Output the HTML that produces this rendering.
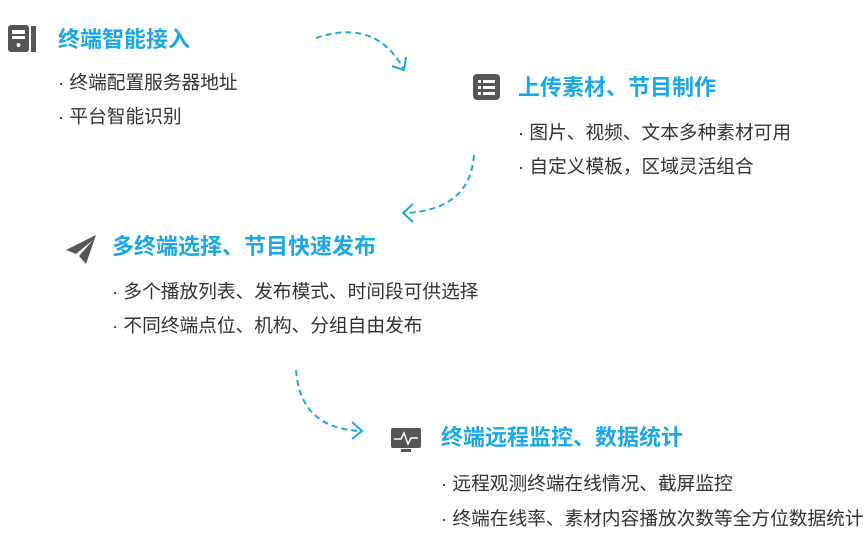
<!DOCTYPE html>
<html><head><meta charset="utf-8"><style>
body{margin:0;width:866px;height:542px;background:#fff;position:relative;overflow:hidden;font-family:"Liberation Sans","Noto Sans CJK SC",sans-serif}
.t{position:absolute;color:#1ba8e6;font-weight:bold;font-size:22px;white-space:nowrap;line-height:1}
.b{position:absolute;color:#333;font-size:18.7px;white-space:nowrap;line-height:1}
svg{position:absolute;left:0;top:0}
</style></head><body>
<svg width="866" height="542">
<g fill="#555">
<rect x="8" y="25" width="21" height="27" rx="3"/><rect x="31" y="26" width="5" height="26"/>
<rect x="12" y="30" width="13" height="4" fill="#fff"/><rect x="12" y="36" width="13" height="3" fill="#fff"/><circle cx="18.5" cy="45" r="2" fill="#fff"/>
<rect x="473" y="74" width="27" height="26" rx="4"/>
<g fill="#fff"><rect x="478" y="80" width="3" height="3"/><rect x="483" y="80" width="12" height="3"/><rect x="478" y="86" width="3" height="3"/><rect x="483" y="86" width="12" height="3"/><rect x="478" y="92" width="3" height="3"/><rect x="483" y="92" width="12" height="3"/></g>
<path d="M96 235 L66 250 L76 254 L93 240 L79 256 L86 264 Z"/>
<rect x="391" y="428" width="30" height="20" rx="2"/><rect x="401" y="449" width="10" height="3"/>
</g>
<polyline points="394,439 401,439 404,433 408,444 411,438 418,438" fill="none" stroke="#fff" stroke-width="1.5"/>
<g fill="none" stroke="#1ba8e6" stroke-width="2" stroke-dasharray="6,4">
<path d="M316 38 Q375 18 403 68"/>
<path d="M474 155 Q470 210 405 213"/>
<path d="M296 370 Q300 428 360 431"/>
</g>
<g fill="none" stroke="#1ba8e6" stroke-width="2">
<path d="M392 66 L404 70 L406 57"/>
<path d="M413 204 L403 213 L413 222"/>
<path d="M352 422 L362 431 L352 439"/>
</g>
</svg>
<div class="t" style="left:58px;top:29px">终端智能接入</div>
<div class="b" style="left:58px;top:74px">· 终端配置服务器地址</div>
<div class="b" style="left:58px;top:108px">· 平台智能识别</div>
<div class="t" style="left:518px;top:77px">上传素材、节目制作</div>
<div class="b" style="left:518px;top:124px">· 图片、视频、文本多种素材可用</div>
<div class="b" style="left:518px;top:158px">· 自定义模板，区域灵活组合</div>
<div class="t" style="left:112px;top:236px">多终端选择、节目快速发布</div>
<div class="b" style="left:112px;top:283px">· 多个播放列表、发布模式、时间段可供选择</div>
<div class="b" style="left:112px;top:317px">· 不同终端点位、机构、分组自由发布</div>
<div class="t" style="left:441px;top:427px">终端远程监控、数据统计</div>
<div class="b" style="left:441px;top:475px">· 远程观测终端在线情况、截屏监控</div>
<div class="b" style="left:441px;top:510px">· 终端在线率、素材内容播放次数等全方位数据统计</div>
</body></html>
